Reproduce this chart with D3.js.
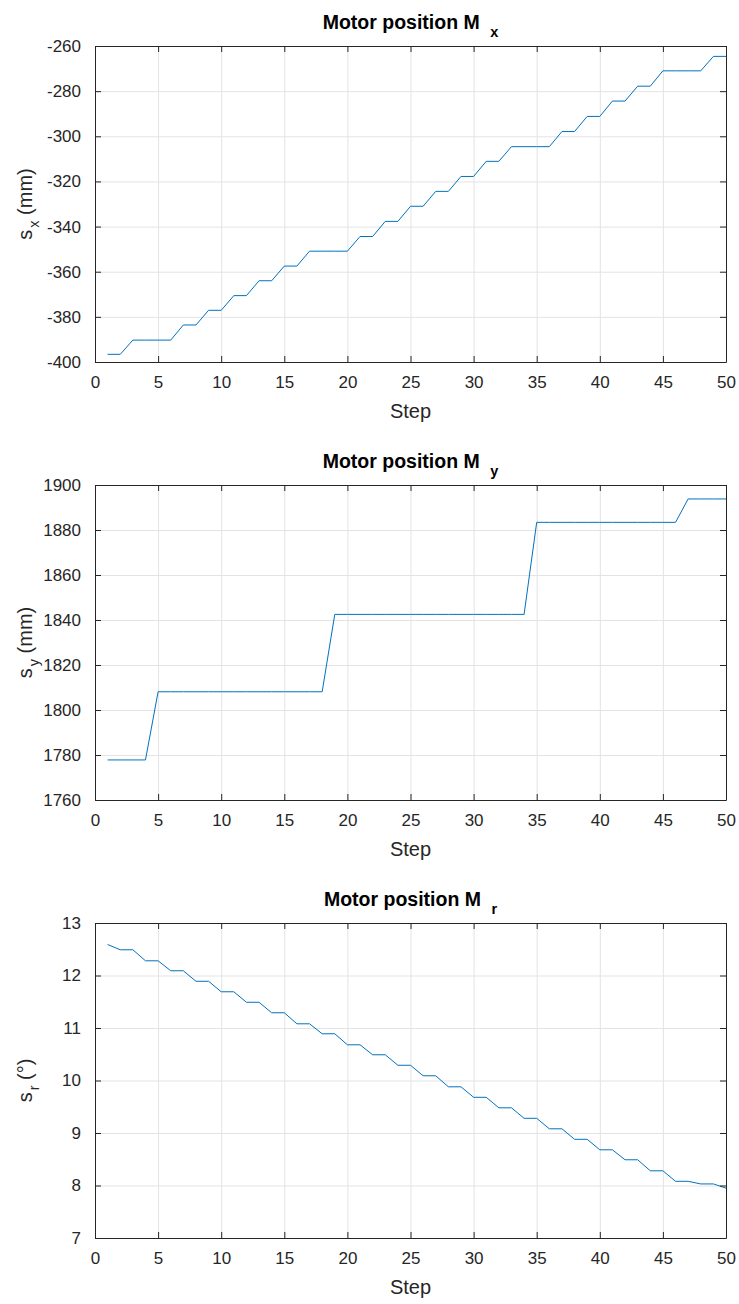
<!DOCTYPE html>
<html>
<head>
<meta charset="utf-8">
<script src="https://cdn.jsdelivr.net/npm/d3@7"></script>
<style>
  html, body { margin: 0; padding: 0; background: #fff; }
  svg { display: block; font-family: "Liberation Sans", Arial, sans-serif; }
</style>
</head>
<body>
<svg id="chart" width="739" height="1304"></svg>
<script>
// Step index shared by all three panels
const steps = d3.range(1, 51);

// Motor position M_x (mm)
const posX = [
  -396.6, -396.6, -390.3, -390.3, -390.3, -390.3, -383.6, -383.6, -377.1, -377.1,
  -370.6, -370.6, -364.0, -364.0, -357.5, -357.5, -350.9, -350.9, -350.9, -350.9,
  -344.4, -344.4, -337.7, -337.7, -331.0, -331.0, -324.4, -324.4, -317.8, -317.8,
  -311.1, -311.1, -304.6, -304.6, -304.6, -304.6, -297.9, -297.9, -291.2, -291.2,
  -284.4, -284.4, -277.8, -277.8, -271.0, -271.0, -271.0, -271.0, -264.6, -264.6
];

// Motor position M_y (mm)
const posY = [
  1777.8, 1777.8, 1777.8, 1777.8, 1808.1, 1808.1, 1808.1, 1808.1, 1808.1, 1808.1,
  1808.1, 1808.1, 1808.1, 1808.1, 1808.1, 1808.1, 1808.1, 1808.1, 1842.5, 1842.5,
  1842.5, 1842.5, 1842.5, 1842.5, 1842.5, 1842.5, 1842.5, 1842.5, 1842.5, 1842.5,
  1842.5, 1842.5, 1842.5, 1842.5, 1883.4, 1883.4, 1883.4, 1883.4, 1883.4, 1883.4,
  1883.4, 1883.4, 1883.4, 1883.4, 1883.4, 1883.4, 1893.8, 1893.8, 1893.8, 1893.8
];

// Motor position M_r (degrees)
const posR = [
  12.59, 12.49, 12.49, 12.28, 12.28, 12.09, 12.09, 11.89, 11.89, 11.69,
  11.69, 11.49, 11.49, 11.29, 11.29, 11.08, 11.08, 10.89, 10.89, 10.68,
  10.68, 10.49, 10.49, 10.29, 10.29, 10.09, 10.09, 9.88, 9.88, 9.68,
  9.68, 9.48, 9.48, 9.28, 9.28, 9.08, 9.08, 8.88, 8.88, 8.68,
  8.68, 8.49, 8.49, 8.28, 8.28, 8.08, 8.08, 8.03, 8.03, 7.95
];

// Tick values
const stepTicks = d3.range(0, 51, 5);
const ticksX = d3.range(-400, -259, 20);
const ticksY = d3.range(1760, 1901, 20);
const ticksR = d3.range(7, 14, 1);

const panels = [
  { sub: "x", unit: " (mm)", values: posX, domain: [-400, -260], ticks: ticksX, top: 46, bottom: 362 },
  { sub: "y", unit: " (mm)", values: posY, domain: [1760, 1900], ticks: ticksY, top: 485, bottom: 800 },
  { sub: "r", unit: " (°)",  values: posR, domain: [7, 13],       ticks: ticksR, top: 923, bottom: 1238 }
];

const left = 95, right = 726;
const axisColor = "#262626";
const gridColor = "#e3e3e3";
const lineColor = "#0072BD";
const plainNumber = d => String(d);   // keeps the ASCII hyphen for negatives

const svg = d3.select("#chart");

panels.forEach(p => {
  const x = d3.scaleLinear().domain([0, 50]).range([left, right]);
  const y = d3.scaleLinear().domain(p.domain).range([p.bottom, p.top]);
  const h = p.bottom - p.top, w = right - left;
  const g = svg.append("g");

  // grid
  g.append("g")
    .attr("transform", `translate(0,${p.bottom})`)
    .call(d3.axisBottom(x).tickValues(stepTicks).tickSize(-h).tickFormat(""))
    .call(s => s.select(".domain").remove())
    .call(s => s.selectAll("line").attr("stroke", gridColor).attr("stroke-width", 1));
  g.append("g")
    .attr("transform", `translate(${left},0)`)
    .call(d3.axisLeft(y).tickValues(p.ticks).tickSize(-w).tickFormat(""))
    .call(s => s.select(".domain").remove())
    .call(s => s.selectAll("line").attr("stroke", gridColor).attr("stroke-width", 1));

  // data line
  const line = d3.line().x((d, i) => x(steps[i])).y(d => y(d));
  g.append("path")
    .datum(p.values)
    .attr("d", line)
    .attr("fill", "none")
    .attr("stroke", lineColor)
    .attr("stroke-width", 1);

  // axes with inward ticks on all four sides
  const styleAxis = s => {
    s.select(".domain").attr("stroke", axisColor).attr("stroke-width", 1);
    s.selectAll(".tick line").attr("stroke", axisColor);
    s.selectAll(".tick text").attr("fill", axisColor).attr("font-size", 17)
      .attr("font-family", "'Liberation Sans', Arial, sans-serif");
  };
  g.append("g")
    .attr("transform", `translate(0,${p.bottom})`)
    .call(d3.axisBottom(x).tickValues(stepTicks).tickSizeInner(-6).tickSizeOuter(0).tickPadding(14).tickFormat(plainNumber))
    .call(styleAxis);
  g.append("g")
    .attr("transform", `translate(0,${p.top})`)
    .call(d3.axisTop(x).tickValues(stepTicks).tickSizeInner(-6).tickSizeOuter(0).tickFormat(""))
    .call(styleAxis);
  g.append("g")
    .attr("transform", `translate(${left},0)`)
    .call(d3.axisLeft(y).tickValues(p.ticks).tickSizeInner(-6).tickSizeOuter(0).tickPadding(14).tickFormat(plainNumber))
    .call(styleAxis);
  g.append("g")
    .attr("transform", `translate(${right},0)`)
    .call(d3.axisRight(y).tickValues(p.ticks).tickSizeInner(-6).tickSizeOuter(0).tickFormat(""))
    .call(styleAxis);

  // title
  const title = g.append("text")
    .attr("x", (left + right) / 2)
    .attr("y", p.top - 17)
    .attr("text-anchor", "middle")
    .attr("font-size", 19.5)
    .attr("font-weight", "bold")
    .attr("fill", "#000");
  title.append("tspan").text("Motor position M ");
  title.append("tspan").attr("dy", 8).attr("dx", 5).attr("font-size", 14.5).text(p.sub);

  // x label
  g.append("text")
    .attr("x", (left + right) / 2)
    .attr("y", p.bottom + 56)
    .attr("text-anchor", "middle")
    .attr("font-size", 20)
    .attr("fill", axisColor)
    .text("Step");

  // y label
  const yl = g.append("text")
    .attr("transform", `translate(32,${(p.top + p.bottom) / 2}) rotate(-90)`)
    .attr("text-anchor", "middle")
    .attr("font-size", 20)
    .attr("fill", axisColor);
  yl.append("tspan").text("s");
  yl.append("tspan").attr("dy", 7).attr("dx", 2).attr("font-size", 14.5).text(p.sub);
  yl.append("tspan").attr("dy", -7).text(p.unit);
});
</script>
</body>
</html>
